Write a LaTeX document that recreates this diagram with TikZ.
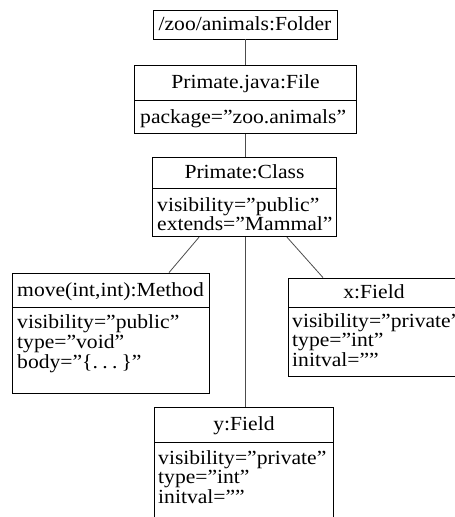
\documentclass[tikz,border=0pt]{standalone}
\usepackage{fontspec}
\setmainfont{Liberation Serif}[FakeStretch=1.08]
\begin{document}
\begin{tikzpicture}[x=1pt,y=-1pt,
  every node/.style={font=\fontsize{20}{19.5}\selectfont},
  box/.style={draw, line width=0.8pt, inner sep=0pt, text height=13.5pt, text depth=1.5pt},
  attrtext/.style={inner sep=0pt, anchor=base west},
  conn/.style={draw=black!70, line width=0.8pt}]
\useasboundingbox (0,0) rectangle (455,517);
\clip (0,0) rectangle (455,517);
% Folder
\node[box, minimum width=184pt, minimum height=29pt] (folder) at (245,24.5) {/zoo/animals:Folder};
% File
\node[box, minimum width=222pt, minimum height=35pt] (ftitle) at (245.5,82.5) {Primate.java:File};
\node[box, minimum width=222pt, minimum height=33pt, anchor=north] (fattr) at (ftitle.south) {};
\node[attrtext] (ftext) at (140,123) {\parbox[t]{240pt}{package=''zoo.animals''}};
% Class
\node[box, minimum width=184pt, minimum height=31pt] (ctitle) at (244.5,172.5) {Primate:Class};
\node[box, minimum width=184pt, minimum height=48pt, anchor=north] (cattr) at (ctitle.south) {};
\node[attrtext] (ctext) at (157,211) {\parbox[t]{240pt}{visibility=''public''\\extends=''Mammal''}};
% Method
\node[box, minimum width=197pt, minimum height=34pt] (mtitle) at (110.5,290) {move(int,int):Method};
\node[box, minimum width=197pt, minimum height=86pt, anchor=north] (mattr) at (mtitle.south) {};
\node[attrtext] (mtext) at (17,328) {\parbox[t]{240pt}{\baselineskip=20pt visibility=''public''\\type=''void''\\body=''\{.\hspace{0.22em}.\hspace{0.22em}.\hspace{0.2em}\}''}};
% x Field
\node[box, minimum width=172pt, minimum height=29pt] (xtitle) at (374,292.5) {x:Field};
\node[box, minimum width=172pt, minimum height=69pt, anchor=north] (xattr) at (xtitle.south) {};
\node[attrtext] (xtext) at (292,327) {\parbox[t]{240pt}{visibility=''private''\\type=''int''\\initval=''''}};
% y Field
\node[box, minimum width=179pt, minimum height=35pt] (ytitle) at (244,424.5) {y:Field};
\node[box, minimum width=179pt, minimum height=100pt, anchor=north] (yattr) at (ytitle.south) {};
\node[attrtext] (ytext) at (158,464) {\parbox[t]{240pt}{visibility=''private''\\type=''int''\\initval=''''}};
% connectors
\draw[conn] (folder.south) -- (ftitle.north -| folder.south);
\draw[conn] (fattr.south -| folder.south) -- (ctitle.north -| folder.south);
\draw[conn] ([xshift=-46pt]cattr.south -| folder.south) -- ([xshift=58.5pt]mtitle.north);
\draw[conn] (cattr.south -| folder.south) -- (ytitle.north -| folder.south);
\draw[conn] ([xshift=42pt]cattr.south -| folder.south) -- ([xshift=-51pt]xtitle.north);
\end{tikzpicture}
\end{document}
